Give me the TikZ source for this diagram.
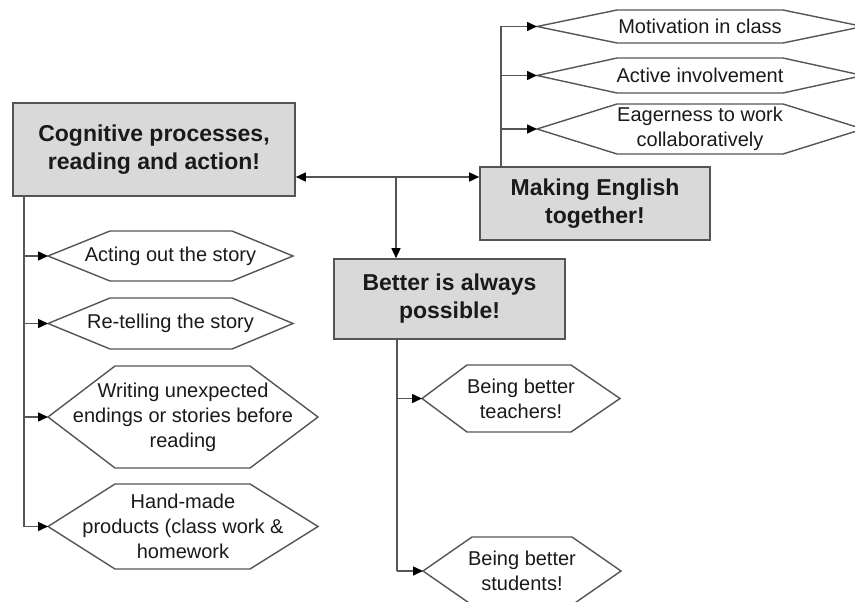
\documentclass[tikz,border=0pt]{standalone}
\usepackage{fontspec}
\setmainfont{Liberation Sans}
\usetikzlibrary{arrows.meta}
\definecolor{ln}{HTML}{555555}
\definecolor{bx}{HTML}{D9D9D9}
\definecolor{tx}{HTML}{1A1A1A}
\tikzset{
  boxs/.style={draw=ln, line width=1.6pt, fill=bx, inner sep=0pt, align=center,
    text=tx, font=\fontsize{23}{28}\selectfont\bfseries},
  hexs/.style={draw=ln, line width=1.4pt, fill=white},
  hext/.style={inner sep=0pt, align=center, text=tx, font=\fontsize{20}{25}\selectfont},
  trunk/.style={draw=ln, line width=1.5pt},
  arr/.style={draw=ln, line width=1.5pt, -{Triangle[length=10pt,width=9pt,color=black]}},
  dblarr/.style={draw=ln, line width=1.5pt, {Triangle[length=10pt,width=9pt,color=black]}-{Triangle[length=10pt,width=9pt,color=black]}}
}
% name, L, a, b, R, T, B, C, text
\newcommand\hexnode[9]{%
  \draw[hexs] (#2,#8) coordinate (#1-w) -- (#3,#6) -- (#4,#6) -- (#5,#8) -- (#4,#7) -- (#3,#7) -- cycle;
  \node[hext] (#1) at ({(#2+#5)/2},#8) {#9};
}
\begin{document}
\begin{tikzpicture}[x=1pt,y=-1pt]
\useasboundingbox (0,0) rectangle (855,602);
\fill[white] (0,0) rectangle (855,602);
\clip (0,0) rectangle (855,602);

% main boxes
\node[boxs, minimum width=282pt, minimum height=93pt] (cog) at (154,149.5) {Cognitive processes,\\reading and action!};
\node[boxs, minimum width=230pt, minimum height=73pt] (make) at (595,203.5) {Making English\\together!};
\node[boxs, minimum width=231pt, minimum height=80pt] (better) at (449.5,299) {Better is always\\possible!};

% right-top hexagons
\hexnode{mot}{537}{617}{783}{863}{10}{43}{26.5}{Motivation in class}
\hexnode{act}{537}{617}{783}{863}{58}{93}{75.5}{Active involvement}
\hexnode{eag}{537}{617}{783}{863}{104}{154}{129}{Eagerness to work\\collaboratively}

% left hexagons
\hexnode{acting}{48}{110}{232}{293}{231}{281}{256}{Acting out the story}
\hexnode{retell}{48}{110}{232}{293}{298}{349}{323.5}{Re-telling the story}
\hexnode{writing}{48}{115}{250}{318}{366}{468}{417}{Writing unexpected\\endings or stories before\\reading}
\hexnode{hand}{48}{115}{250}{318}{484}{569}{526.5}{Hand-made\\products (class work \&\\homework}

% bottom hexagons
\hexnode{teach}{422}{467}{571}{620}{365}{432}{398.5}{Being better\\teachers!}
\hexnode{stud}{423}{472}{572}{621}{537}{605}{571}{Being better\\students!}

% connectors
\coordinate (j) at (396,177);
\draw[dblarr] (cog.east |- j) -- (make.west |- j);
\draw[arr] (j) -- (j |- better.north);

\coordinate (t1) at (24,526.5);
\draw[trunk] (cog.south -| t1) -- (t1);
\draw[arr] (acting-w -| t1) -- (acting-w);
\draw[arr] (retell-w -| t1) -- (retell-w);
\draw[arr] (writing-w -| t1) -- (writing-w);
\draw[arr] (t1) -- (hand-w);

\coordinate (t2) at (501,26.5);
\draw[trunk] (make.north -| t2) -- (t2);
\draw[arr] (t2) -- (mot-w);
\draw[arr] (act-w -| t2) -- (act-w);
\draw[arr] (eag-w -| t2) -- (eag-w);

\coordinate (t3) at (397,571);
\draw[trunk] (better.south -| t3) -- (t3);
\draw[arr] (teach-w -| t3) -- (teach-w);
\draw[arr] (t3) -- (stud-w);
\end{tikzpicture}
\end{document}
